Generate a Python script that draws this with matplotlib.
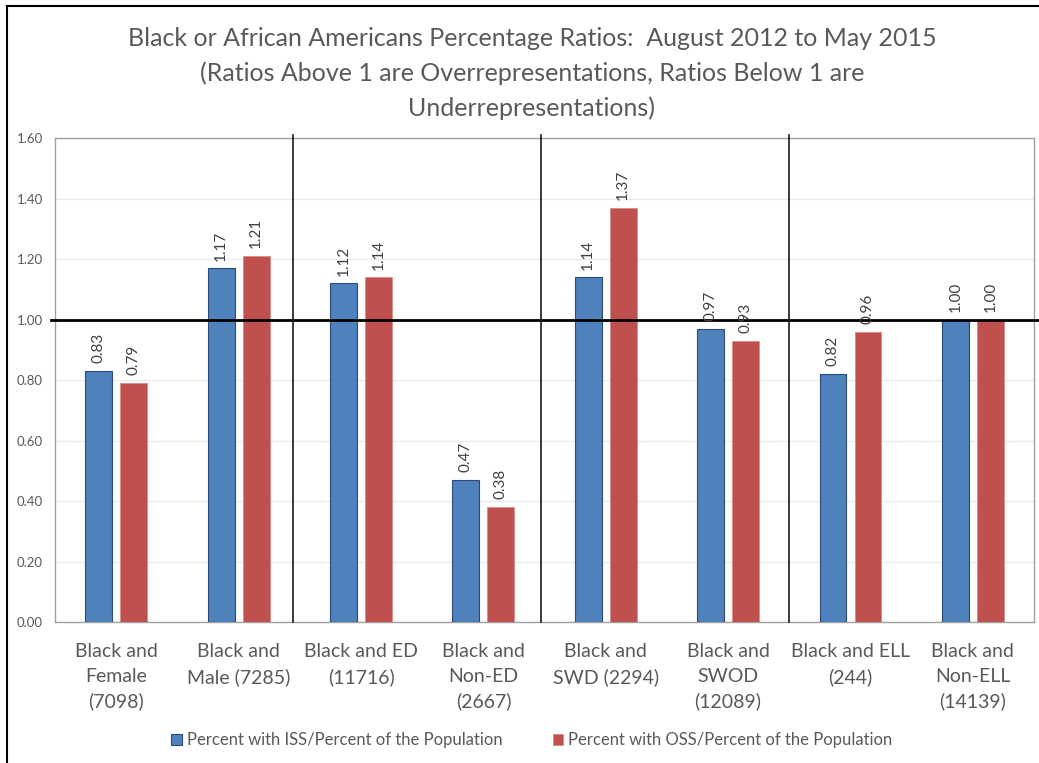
import numpy as np
import matplotlib
matplotlib.use("Agg")
import matplotlib.pyplot as plt
from matplotlib.lines import Line2D

plt.rcParams['font.family'] = ['Lato', 'DejaVu Sans']

# data
categories = ['Black and\nFemale\n(7098)', 'Black and\nMale (7285)', 'Black and ED\n(11716)',
              'Black and\nNon-ED\n(2667)', 'Black and\nSWD (2294)', 'Black and\nSWOD\n(12089)',
              'Black and ELL\n(244)', 'Black and\nNon-ELL\n(14139)']
iss = [0.83, 1.17, 1.12, 0.47, 1.14, 0.97, 0.82, 1.00]
oss = [0.79, 1.21, 1.14, 0.38, 1.37, 0.93, 0.96, 1.00]
series_names = ['Percent with ISS/Percent of the Population',
                'Percent with OSS/Percent of the Population']
yticks = [0.0, 0.2, 0.4, 0.6, 0.8, 1.0, 1.2, 1.4, 1.6]

gray = '#595959'
blue = '#4F81BD'
red = '#C0504D'

fig = plt.figure(figsize=(10.39, 7.63), dpi=100)
ax = fig.add_axes([0.0531, 0.1848, 0.9421, 0.6343])

x = np.arange(len(categories))
w = 0.22
off = 0.143
b1 = ax.bar(x - off, iss, w, color=blue, edgecolor='#2A4A7A', linewidth=0.8, zorder=3,
            label=series_names[0])
b2 = ax.bar(x + off, oss, w, color=red, edgecolor='#D88B89', linewidth=0.6, zorder=3,
            label=series_names[1])

for bars, vals in [(b1, iss), (b2, oss)]:
    for r, v in zip(bars, vals):
        ax.text(r.get_x() + r.get_width() / 2, v + 0.025, f'{v:.2f}', rotation=90,
                ha='center', va='bottom', fontsize=11, color='#404040', zorder=5)

ax.set_xlim(-0.5, len(categories) - 0.5)
ax.set_ylim(0, 1.6)
ax.set_yticks(yticks)
ax.set_yticklabels([f'{t:.2f}' for t in yticks], fontsize=9.5, color=gray)
ax.set_xticks(x)
ax.set_xticklabels(categories, fontsize=14, color=gray, linespacing=1.55)
ax.tick_params(axis='both', length=0)
ax.tick_params(axis='y', pad=9)
ax.tick_params(axis='x', pad=15)
ax.grid(axis='y', color='#EBEBEB', linewidth=1, zorder=0)
for s in ax.spines.values():
    s.set_color('#A0A0A0')
    s.set_linewidth(1)

# reference line at 1.0 and group dividers
ax.axhline(1.0, xmin=-0.004, xmax=1.01, color='black', linewidth=2, zorder=4, clip_on=False)
for xv in [1.44, 3.47, 5.50]:
    ax.axvline(xv, ymin=0, ymax=1.006, color='#1A1A1A', linewidth=1.2, zorder=4, clip_on=False)

fig.text(0.512, 0.965, 'Black or African Americans Percentage Ratios:  August 2012 to May 2015\n'
         '(Ratios Above 1 are Overrepresentations, Ratios Below 1 are\nUnderrepresentations)',
         ha='center', va='top', fontsize=18, color=gray, linespacing=1.58)

fig.legend(loc='center', bbox_to_anchor=(0.512, 0.03), ncol=2, frameon=False,
           fontsize=12, labelcolor=gray, handlelength=0.65, handleheight=0.65,
           handletextpad=0.3, columnspacing=3.0)

# outer frame of the chart image
fig.add_artist(Line2D([0.0068, 0.0068], [0, 0.992], color='black', linewidth=1.5,
                      transform=fig.transFigure))
fig.add_artist(Line2D([0.0068, 1.0], [0.992, 0.992], color='black', linewidth=1.5,
                      transform=fig.transFigure))

fig.savefig('out.png', dpi=100)
